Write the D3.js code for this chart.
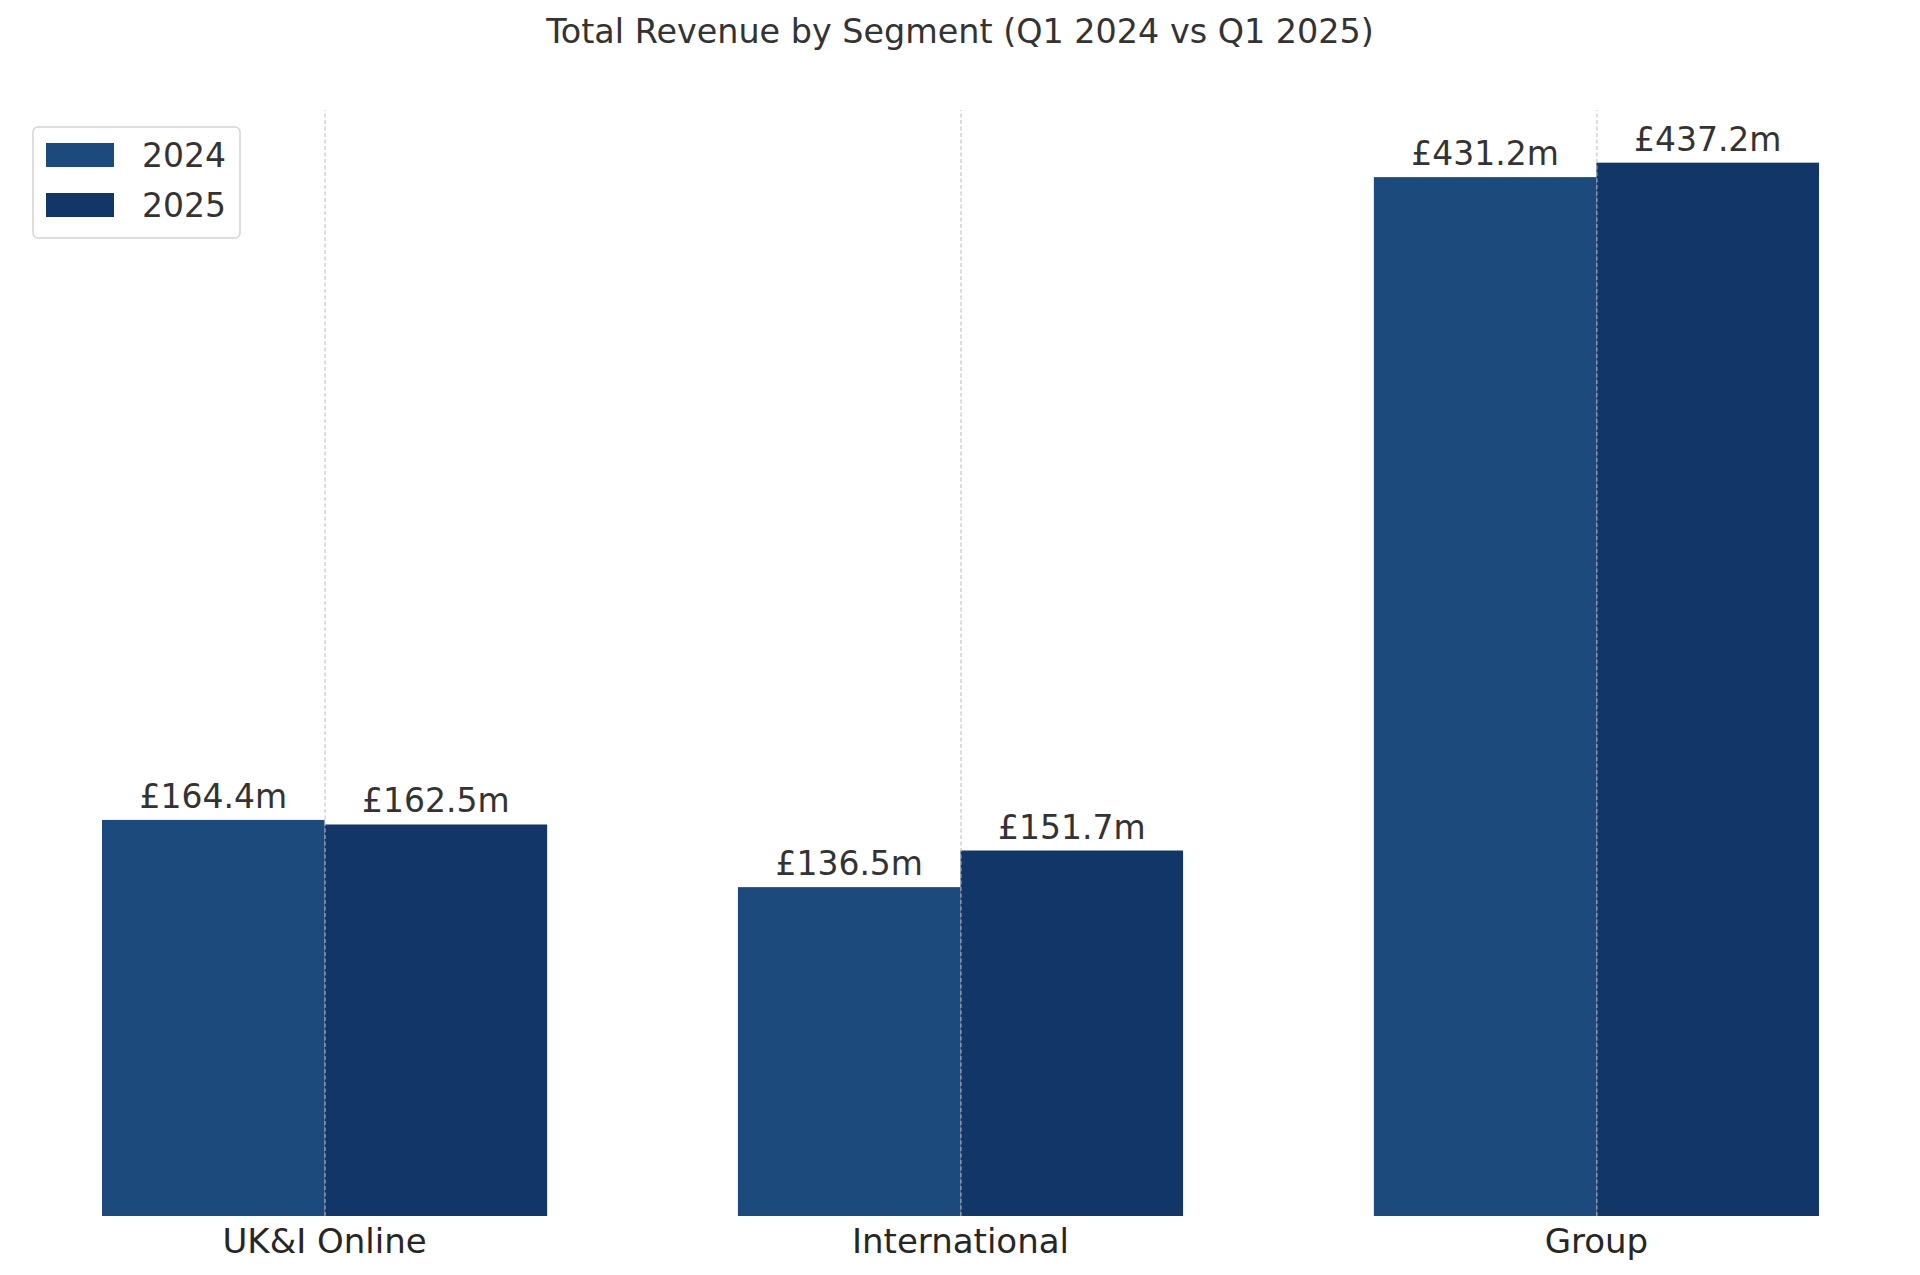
<!DOCTYPE html>
<html>
<head>
<meta charset="utf-8">
<script src="https://cdn.jsdelivr.net/npm/d3@7"></script>
<style>
  body { margin: 0; background: #fff; }
  svg { display: block; font-family: "DejaVu Sans", sans-serif; }
</style>
</head>
<body>
<div id="chart"></div>
<script>
var segments = ["UK&I Online", "International", "Group"],
	years = ["2024", "2025"],
	revenue2024 = [164.4, 136.5, 431.2],
	revenue2025 = [162.5, 151.7, 437.2],
	colours = ["#1d4a7d", "#133669"];

var width = 1920,
	height = 1275,
	left = 102,
	right = 1819,
	baseline = 1216,
	top_y = 110;

var rows = segments.map(function (s, i) {
	return { segment: s, values: [revenue2024[i], revenue2025[i]] };
});

var svg = d3.select("#chart").append("svg")
	.attr("width", width)
	.attr("height", height);

var x = d3.scaleBand()
	.domain(segments)
	.range([left, right])
	.paddingInner(0.3)
	.paddingOuter(0);

var x1 = d3.scaleBand()
	.domain(years)
	.range([0, x.bandwidth()]);

var maxVal = d3.max(revenue2024.concat(revenue2025));
var y = d3.scaleLinear()
	.domain([0, maxVal * 1.05])
	.range([baseline, top_y]);

// title
svg.append("text")
	.attr("x", 960)
	.attr("y", 43)
	.attr("text-anchor", "middle")
	.style("font-size", "33.4px")
	.style("fill", "#333")
	.text("Total Revenue by Segment (Q1 2024 vs Q1 2025)");

// bars
var groups = svg.selectAll("g.segment")
	.data(rows).enter().append("g")
	.attr("class", "segment")
	.attr("transform", function (d) { return "translate(" + x(d.segment) + ",0)"; });

groups.selectAll("rect")
	.data(function (d) { return d.values.map(function (v, i) { return { year: years[i], value: v }; }); })
	.enter().append("rect")
	.attr("x", function (d) { return x1(d.year); })
	.attr("y", function (d) { return y(d.value); })
	.attr("width", x1.bandwidth())
	.attr("height", function (d) { return baseline - y(d.value); })
	.attr("fill", function (d, i) { return colours[i]; });

// value labels
groups.selectAll("text.value")
	.data(function (d) { return d.values.map(function (v, i) { return { year: years[i], value: v }; }); })
	.enter().append("text")
	.attr("class", "value")
	.attr("x", function (d) { return x1(d.year) + x1.bandwidth() / 2; })
	.attr("y", function (d) { return y(d.value) - 12; })
	.attr("text-anchor", "middle")
	.style("font-size", "33px")
	.style("fill", "#333")
	.text(function (d) { return "£" + d3.format(".1f")(d.value) + "m"; });

// vertical dashed grid at category centres
var xCentre = function (s) { return x(s) + x.bandwidth() / 2; };
var grid = svg.append("g")
	.attr("class", "grid")
	.attr("transform", "translate(0," + baseline + ")")
	.call(d3.axisBottom(d3.scalePoint().domain(segments).range([xCentre(segments[0]), xCentre(segments[2])]))
		.tickSize(-(baseline - top_y))
		.tickFormat(""));
grid.select(".domain").remove();
grid.selectAll("line")
	.attr("stroke", "#b8b8b8")
	.attr("stroke-opacity", 0.8)
	.attr("stroke-width", 1.2)
	.attr("stroke-dasharray", "4,2.5");

// category axis
var xAxis = svg.append("g")
	.attr("transform", "translate(0," + baseline + ")")
	.call(d3.axisBottom(x).tickSize(0).tickPadding(13));
xAxis.select(".domain").remove();
xAxis.selectAll("text")
	.style("font-size", "34px")
	.style("font-family", "DejaVu Sans, sans-serif")
	.style("fill", "#262626");

// legend
var legend = svg.append("g").attr("transform", "translate(33,127)");
legend.append("rect")
	.attr("width", 207)
	.attr("height", 111)
	.attr("rx", 5)
	.attr("fill", "#fff")
	.attr("stroke", "#d4d4d4")
	.attr("stroke-width", 1.5);

var items = legend.selectAll("g.item")
	.data(years).enter().append("g")
	.attr("class", "item")
	.attr("transform", function (d, i) { return "translate(0," + (i * 50) + ")"; });

items.append("rect")
	.attr("x", 13)
	.attr("y", 16)
	.attr("width", 68)
	.attr("height", 24)
	.attr("fill", function (d, i) { return colours[i]; });

items.append("text")
	.attr("x", 109)
	.attr("y", 40)
	.style("font-size", "33px")
	.style("fill", "#333")
	.text(function (d) { return d; });
</script>
</body>
</html>
